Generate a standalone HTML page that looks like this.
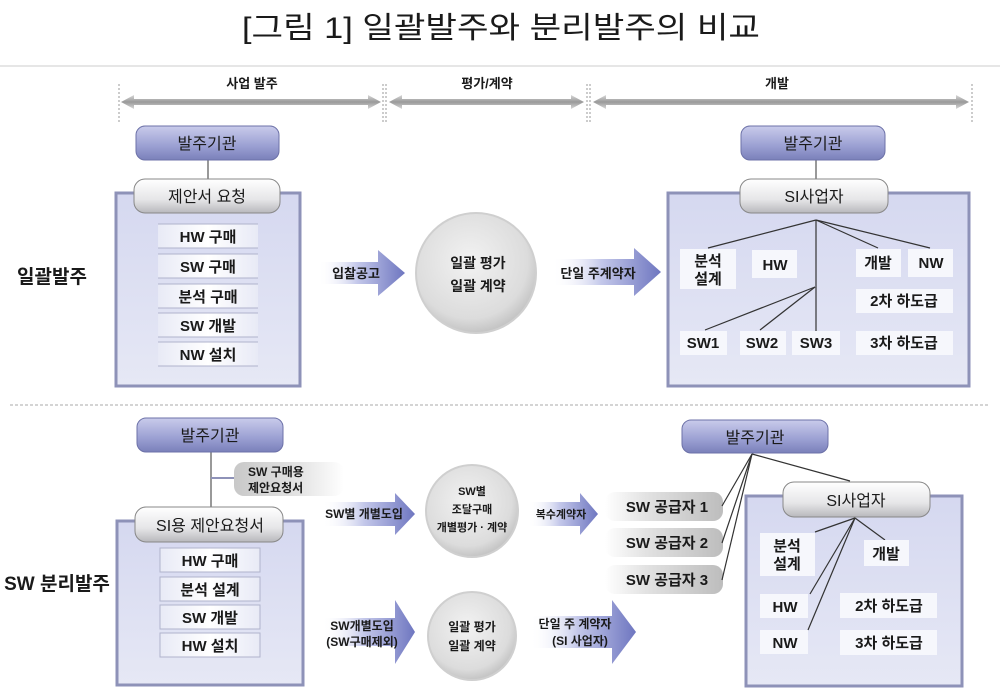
<!DOCTYPE html>
<html><head><meta charset="utf-8"><style>
html,body{margin:0;padding:0;background:#fff;}
svg{display:block;}
text{font-family:"Liberation Sans","Noto Sans CJK KR",sans-serif;fill:#1a1a1a;}
.b{font-weight:bold;}
</style></head><body>
<svg width="1000" height="691" viewBox="0 0 1000 691" xmlns="http://www.w3.org/2000/svg">
<defs>
<linearGradient id="pur" x1="0" y1="0" x2="0" y2="1">
<stop offset="0" stop-color="#c9cbeb"/><stop offset="0.6" stop-color="#9a9fd2"/><stop offset="1" stop-color="#7a80ba"/></linearGradient>
<linearGradient id="gry" x1="0" y1="0" x2="0" y2="1">
<stop offset="0" stop-color="#ffffff"/><stop offset="0.6" stop-color="#e6e6e8"/><stop offset="1" stop-color="#b8b8bc"/></linearGradient>
<linearGradient id="panel" x1="0" y1="0" x2="0" y2="1">
<stop offset="0" stop-color="#d5d8f0"/><stop offset="1" stop-color="#e6e8f5"/></linearGradient>
<linearGradient id="arr" x1="0" y1="0" x2="1" y2="0">
<stop offset="0" stop-color="#ffffff" stop-opacity="0"/><stop offset="0.45" stop-color="#c4c8ea"/><stop offset="1" stop-color="#6e76c0"/></linearGradient>
<linearGradient id="fade" x1="0" y1="0" x2="1" y2="0">
<stop offset="0" stop-color="#c8c8c8"/><stop offset="0.6" stop-color="#e4e4e4"/><stop offset="1" stop-color="#ffffff"/></linearGradient>
<linearGradient id="fadeL" x1="0" y1="0" x2="1" y2="0">
<stop offset="0" stop-color="#ffffff"/><stop offset="0.35" stop-color="#e2e2e2"/><stop offset="1" stop-color="#bdbdbd"/></linearGradient>
<radialGradient id="circ" cx="0.45" cy="0.4" r="0.6">
<stop offset="0" stop-color="#f2f2f2"/><stop offset="0.8" stop-color="#dcdcdc"/><stop offset="1" stop-color="#c4c4c4"/></radialGradient>
<linearGradient id="hd" x1="0" y1="0" x2="0" y2="1">
<stop offset="0" stop-color="#d8d8d8"/><stop offset="0.5" stop-color="#9a9a9a"/><stop offset="1" stop-color="#d8d8d8"/></linearGradient>
<linearGradient id="row" x1="0" y1="0" x2="1" y2="0">
<stop offset="0" stop-color="#e8eaf6"/><stop offset="0.5" stop-color="#ffffff"/><stop offset="1" stop-color="#e8eaf6"/></linearGradient>
</defs>

<text x="242" y="38" font-size="30" textLength="518" lengthAdjust="spacingAndGlyphs">[그림 1] 일괄발주와 분리발주의 비교</text>
<line x1="0" y1="66" x2="1000" y2="66" stroke="#e6e6e6" stroke-width="2"/>

<g stroke="#999" stroke-dasharray="2,2" stroke-width="1">
<line x1="119" y1="84" x2="119" y2="122"/><line x1="383" y1="84" x2="383" y2="122"/><line x1="386" y1="84" x2="386" y2="122"/>
<line x1="587" y1="84" x2="587" y2="122"/><line x1="590" y1="84" x2="590" y2="122"/><line x1="972" y1="84" x2="972" y2="122"/>
</g>
<g fill="url(#hd)">
<path d="M121 102 L134 95 L134 99 L368 99 L368 95 L381 102 L368 109 L368 105 L134 105 L134 109 Z"/>
<path d="M389 102 L402 95 L402 99 L571 99 L571 95 L584 102 L571 109 L571 105 L402 105 L402 109 Z"/>
<path d="M593 102 L606 95 L606 99 L956 99 L956 95 L969 102 L956 109 L956 105 L606 105 L606 109 Z"/>
</g>
<text x="252" y="88" text-anchor="middle" font-size="13" class="b">사업 발주</text>
<text x="487" y="88" text-anchor="middle" font-size="13" class="b">평가/계약</text>
<text x="777" y="88" text-anchor="middle" font-size="13" class="b">개발</text>

<text x="52" y="283" text-anchor="middle" font-size="19" class="b">일괄발주</text>
<text x="57" y="590" text-anchor="middle" font-size="19" class="b">SW 분리발주</text>

<line x1="10" y1="405" x2="990" y2="405" stroke="#aaa" stroke-dasharray="3,2"/>

<!-- TOP LEFT -->
<rect x="116" y="193" width="184" height="193" fill="url(#panel)" stroke="#8e92b8" stroke-width="3"/>
<line x1="208" y1="160" x2="208" y2="180" stroke="#333"/>
<rect x="136" y="126" width="143" height="34" rx="9" fill="url(#pur)" stroke="#6d72a8"/>
<text x="207" y="149" text-anchor="middle" font-size="16">발주기관</text>
<rect x="134" y="179" width="146" height="34" rx="11" fill="url(#gry)" stroke="#888"/>
<text x="207" y="202" text-anchor="middle" font-size="16">제안서 요청</text>
<g font-size="15" class="b" text-anchor="middle">
<rect x="158" y="224" width="100" height="24" fill="url(#row)"/><text x="208" y="242" class="b">HW 구매</text>
<rect x="158" y="254" width="100" height="24" fill="url(#row)"/><text x="208" y="272" class="b">SW 구매</text>
<rect x="158" y="284" width="100" height="24" fill="url(#row)"/><text x="208" y="302" class="b">분석 구매</text>
<rect x="158" y="313" width="100" height="24" fill="url(#row)"/><text x="208" y="331" class="b">SW 개발</text>
<rect x="158" y="342" width="100" height="24" fill="url(#row)"/><text x="208" y="360" class="b">NW 설치</text>
</g>
<g stroke="#b0b3cc" stroke-width="1">
<line x1="158" y1="224" x2="258" y2="224"/><line x1="158" y1="248" x2="258" y2="248"/>
<line x1="158" y1="254" x2="258" y2="254"/><line x1="158" y1="278" x2="258" y2="278"/>
<line x1="158" y1="284" x2="258" y2="284"/><line x1="158" y1="308" x2="258" y2="308"/>
<line x1="158" y1="313" x2="258" y2="313"/><line x1="158" y1="337" x2="258" y2="337"/>
<line x1="158" y1="342" x2="258" y2="342"/><line x1="158" y1="366" x2="258" y2="366"/>
</g>

<path d="M318 262 L378 262 L378 250 L405 273 L378 296 L378 284 L318 284 Z" fill="url(#arr)"/>
<text x="356" y="278" text-anchor="middle" font-size="13" class="b">입찰공고</text>
<circle cx="476" cy="273" r="60" fill="url(#circ)" stroke="#cfcfcf" stroke-width="2"/>
<text x="478" y="268" text-anchor="middle" font-size="14" class="b">일괄 평가</text>
<text x="478" y="291" text-anchor="middle" font-size="14" class="b">일괄 계약</text>
<path d="M552 259 L634 259 L634 248 L661 272 L634 296 L634 285 L552 285 Z" fill="url(#arr)"/>
<text x="598" y="278" text-anchor="middle" font-size="13" class="b">단일 주계약자</text>

<!-- TOP RIGHT -->
<rect x="668" y="193" width="301" height="193" fill="url(#panel)" stroke="#8e92b8" stroke-width="3"/>
<line x1="816" y1="160" x2="816" y2="180" stroke="#333"/>
<rect x="741" y="126" width="144" height="34" rx="9" fill="url(#pur)" stroke="#6d72a8"/>
<text x="813" y="149" text-anchor="middle" font-size="16">발주기관</text>
<rect x="740" y="179" width="148" height="34" rx="11" fill="url(#gry)" stroke="#888"/>
<text x="814" y="202" text-anchor="middle" font-size="16">SI사업자</text>
<g stroke="#333" stroke-width="1.2" fill="none">
<line x1="816" y1="220" x2="708" y2="248"/><line x1="816" y1="220" x2="878" y2="248"/><line x1="816" y1="220" x2="930" y2="248"/>
<line x1="816" y1="220" x2="816" y2="331"/>
<line x1="815" y1="287" x2="705" y2="330"/><line x1="815" y1="287" x2="760" y2="330"/>
</g>
<g fill="#f6f7fc">
<rect x="680" y="249" width="56" height="40"/><rect x="752" y="250" width="45" height="28"/>
<rect x="856" y="249" width="45" height="28"/><rect x="908" y="249" width="45" height="28"/>
<rect x="856" y="289" width="97" height="24"/>
<rect x="680" y="331" width="47" height="24"/><rect x="740" y="331" width="46" height="24"/><rect x="792" y="331" width="48" height="24"/>
<rect x="856" y="331" width="97" height="24"/>
</g>
<g font-size="15" class="b" text-anchor="middle">
<text x="708" y="266" class="b">분석</text><text x="708" y="284" class="b">설계</text>
<text x="775" y="270" class="b">HW</text>
<text x="878" y="268" class="b">개발</text><text x="931" y="268" class="b">NW</text>
<text x="904" y="306" class="b">2차 하도급</text>
<text x="703" y="348" class="b">SW1</text><text x="762" y="348" class="b">SW2</text><text x="816" y="348" class="b">SW3</text>
<text x="904" y="348" class="b">3차 하도급</text>
</g>

<!-- BOTTOM LEFT -->
<rect x="117" y="521" width="186" height="164" fill="url(#panel)" stroke="#8e92b8" stroke-width="3"/>
<line x1="211" y1="452" x2="211" y2="508" stroke="#333"/>
<line x1="211" y1="478" x2="236" y2="478" stroke="#8e92b8" stroke-width="2"/>
<rect x="234" y="462" width="110" height="34" rx="10" fill="url(#fade)"/>
<text x="248" y="476" font-size="12" class="b">SW 구매용</text>
<text x="248" y="492" font-size="12" class="b">제안요청서</text>
<rect x="137" y="418" width="146" height="34" rx="9" fill="url(#pur)" stroke="#6d72a8"/>
<text x="210" y="441" text-anchor="middle" font-size="16">발주기관</text>
<rect x="135" y="507" width="148" height="35" rx="11" fill="url(#gry)" stroke="#888"/>
<text x="210" y="531" text-anchor="middle" font-size="16">SI용 제안요청서</text>
<g stroke="#b0b3cc" stroke-width="1">
<rect x="160" y="548" width="100" height="24" fill="url(#row)"/>
<rect x="160" y="577" width="100" height="24" fill="url(#row)"/>
<rect x="160" y="605" width="100" height="24" fill="url(#row)"/>
<rect x="160" y="633" width="100" height="24" fill="url(#row)"/>
</g>
<g font-size="15" text-anchor="middle">
<text x="210" y="566" class="b">HW 구매</text>
<text x="210" y="595" class="b">분석 설계</text>
<text x="210" y="623" class="b">SW 개발</text>
<text x="210" y="651" class="b">HW 설치</text>
</g>

<path d="M322 502 L395 502 L395 493 L415 514 L395 535 L395 526 L322 526 Z" fill="url(#arr)"/>
<text x="364" y="518" text-anchor="middle" font-size="12" class="b">SW별 개별도입</text>
<circle cx="472" cy="511" r="46" fill="url(#circ)" stroke="#cfcfcf" stroke-width="2"/>
<text x="472" y="495" text-anchor="middle" font-size="11" class="b">SW별</text>
<text x="472" y="513" text-anchor="middle" font-size="11" class="b">조달구매</text>
<text x="472" y="531" text-anchor="middle" font-size="11" class="b">개별평가 · 계약</text>
<path d="M528 502 L580 502 L580 493 L598 514 L580 535 L580 526 L528 526 Z" fill="url(#arr)"/>
<text x="561" y="518" text-anchor="middle" font-size="11" class="b">복수계약자</text>

<path d="M322 618 L395 618 L395 600 L415 632 L395 664 L395 646 L322 646 Z" fill="url(#arr)"/>
<text x="362" y="630" text-anchor="middle" font-size="12" class="b">SW개별도입</text>
<text x="362" y="646" text-anchor="middle" font-size="12" class="b">(SW구매제외)</text>
<circle cx="472" cy="636" r="44" fill="url(#circ)" stroke="#cfcfcf" stroke-width="2"/>
<text x="472" y="631" text-anchor="middle" font-size="12" class="b">일괄 평가</text>
<text x="472" y="650" text-anchor="middle" font-size="12" class="b">일괄 계약</text>
<path d="M530 616 L612 616 L612 600 L636 632 L612 664 L612 648 L530 648 Z" fill="url(#arr)"/>
<text x="575" y="628" text-anchor="middle" font-size="12" class="b">단일 주 계약자</text>
<text x="580" y="645" text-anchor="middle" font-size="12" class="b">(SI 사업자)</text>

<!-- BOTTOM RIGHT -->
<rect x="746" y="496" width="216" height="190" fill="url(#panel)" stroke="#8e92b8" stroke-width="3"/>
<g fill="url(#fadeL)">
<rect x="605" y="492" width="118" height="29" rx="10"/>
<rect x="605" y="528" width="118" height="29" rx="10"/>
<rect x="605" y="565" width="118" height="29" rx="10"/>
</g>
<g font-size="15" class="b" text-anchor="middle">
<text x="667" y="512" class="b">SW 공급자 1</text>
<text x="667" y="548" class="b">SW 공급자 2</text>
<text x="667" y="585" class="b">SW 공급자 3</text>
</g>
<g stroke="#333" stroke-width="1.2">
<line x1="752" y1="454" x2="722" y2="506"/><line x1="752" y1="454" x2="722" y2="543"/><line x1="752" y1="454" x2="722" y2="580"/>
<line x1="752" y1="454" x2="850" y2="481"/>
</g>
<rect x="682" y="420" width="146" height="33" rx="9" fill="url(#pur)" stroke="#6d72a8"/>
<text x="755" y="443" text-anchor="middle" font-size="16">발주기관</text>
<rect x="783" y="482" width="147" height="35" rx="11" fill="url(#gry)" stroke="#888"/>
<text x="856" y="506" text-anchor="middle" font-size="16">SI사업자</text>
<g stroke="#333" stroke-width="1.2">
<line x1="855" y1="518" x2="815" y2="532"/><line x1="855" y1="518" x2="885" y2="540"/>
<line x1="855" y1="518" x2="810" y2="594"/><line x1="855" y1="518" x2="808" y2="630"/>
</g>
<g fill="#f6f7fc">
<rect x="760" y="533" width="55" height="43"/><rect x="864" y="540" width="45" height="26"/>
<rect x="760" y="594" width="48" height="24"/><rect x="760" y="630" width="48" height="24"/>
<rect x="840" y="593" width="97" height="25"/><rect x="840" y="630" width="97" height="25"/>
</g>
<g font-size="15" text-anchor="middle">
<text x="787" y="551" class="b">분석</text><text x="787" y="569" class="b">설계</text>
<text x="886" y="559" class="b">개발</text>
<text x="785" y="612" class="b">HW</text><text x="785" y="648" class="b">NW</text>
<text x="889" y="611" class="b">2차 하도급</text><text x="889" y="648" class="b">3차 하도급</text>
</g>
</svg>
</body></html>
